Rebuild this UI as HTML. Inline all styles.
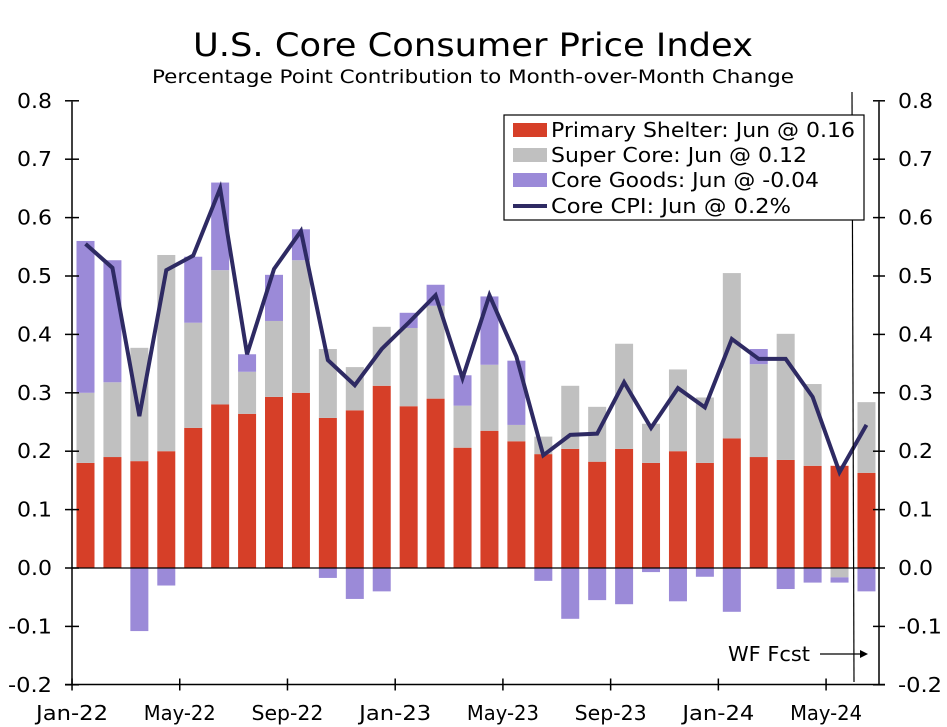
<!DOCTYPE html>
<html><head><meta charset="utf-8"><style>
html,body{margin:0;padding:0;background:#fff;}
svg{display:block;font-family:"DejaVu Sans","Liberation Sans",sans-serif;}
</style></head><body>
<svg id="chart" width="947" height="727" viewBox="0 0 947 727" xmlns="http://www.w3.org/2000/svg">
<text x="473" y="56" font-size="32" text-anchor="middle" textLength="560" lengthAdjust="spacingAndGlyphs">U.S. Core Consumer Price Index</text>
<text x="473" y="83" font-size="19" text-anchor="middle" textLength="642" lengthAdjust="spacingAndGlyphs">Percentage Point Contribution to Month-over-Month Change</text>
<g id="bars"></g>
<g id="axes"></g>
<polyline id="cpiline" fill="none" stroke="#2e2a63" stroke-width="4" stroke-linejoin="miter"/>
<line x1="852" y1="92" x2="854" y2="682" stroke="#000" stroke-width="1.2"/>
<text x="728" y="661" font-size="20" textLength="82" lengthAdjust="spacingAndGlyphs">WF Fcst</text>
<line x1="820" y1="654" x2="862" y2="654" stroke="#000" stroke-width="1.2"/>
<polygon points="868,654 860,650 860,658" fill="#000"/>
<g>
<rect x="504" y="115" width="360" height="105" fill="#fff" stroke="#000" stroke-width="1.2"/>
<rect x="513" y="123" width="34" height="14" fill="#d63f28"/>
<text x="551" y="137" font-size="20" textLength="304" lengthAdjust="spacingAndGlyphs">Primary Shelter: Jun @ 0.16</text>
<rect x="513" y="148" width="34" height="14" fill="#c0c0c0"/>
<text x="551" y="162" font-size="20" textLength="256" lengthAdjust="spacingAndGlyphs">Super Core: Jun @ 0.12</text>
<rect x="513" y="173" width="34" height="14" fill="#9b8ad8"/>
<text x="551" y="187" font-size="20" textLength="268" lengthAdjust="spacingAndGlyphs">Core Goods: Jun @ -0.04</text>
<line x1="513" y1="206" x2="547" y2="206" stroke="#2e2a63" stroke-width="4"/>
<text x="551" y="213" font-size="20" textLength="240" lengthAdjust="spacingAndGlyphs">Core CPI: Jun @ 0.2%</text>
</g>
</svg>
<script>
const months = ["Jan-22","Feb-22","Mar-22","Apr-22","May-22","Jun-22","Jul-22","Aug-22","Sep-22","Oct-22","Nov-22","Dec-22","Jan-23","Feb-23","Mar-23","Apr-23","May-23","Jun-23","Jul-23","Aug-23","Sep-23","Oct-23","Nov-23","Dec-23","Jan-24","Feb-24","Mar-24","Apr-24","May-24","Jun-24"];
const shelter = [0.18,0.19,0.183,0.20,0.24,0.28,0.264,0.293,0.30,0.257,0.27,0.312,0.277,0.29,0.206,0.235,0.217,0.195,0.204,0.182,0.204,0.18,0.20,0.18,0.222,0.19,0.185,0.175,0.175,0.163];
const superCore = [0.12,0.128,0.194,0.336,0.18,0.23,0.072,0.13,0.227,0.118,0.074,0.101,0.134,0.159,0.072,0.113,0.028,0.03,0.108,0.094,0.18,0.067,0.14,0.112,0.283,0.159,0.216,0.14,-0.016,0.121];
const coreGoods = [0.26,0.209,-0.108,-0.03,0.113,0.15,0.03,0.079,0.053,-0.017,-0.053,-0.04,0.026,0.036,0.052,0.117,0.11,-0.022,-0.087,-0.055,-0.062,-0.007,-0.057,-0.015,-0.075,0.026,-0.036,-0.025,-0.009,-0.04];
const coreCPI = [0.555,0.514,0.26,0.51,0.535,0.65,0.366,0.512,0.577,0.356,0.313,0.375,0.42,0.467,0.325,0.467,0.362,0.193,0.228,0.23,0.318,0.24,0.308,0.275,0.392,0.358,0.358,0.293,0.164,0.245];
const yTicks = [-0.2,-0.1,0.0,0.1,0.2,0.3,0.4,0.5,0.6,0.7,0.8];
const xLabelIdx = [0,4,8,12,16,20,24,28];

const NS="http://www.w3.org/2000/svg";
const y0=568, ppu=584, xL=72, xR=879, yTop=101.6, yBot=684.5;
const pitch=26.93, x0=85.5, bw=18;
function yS(v){return y0 - v*ppu;}
function xS(i){return x0 + i*pitch;}
function mk(tag,attrs,parent){const e=document.createElementNS(NS,tag);for(const k in attrs)e.setAttribute(k,attrs[k]);parent.appendChild(e);return e;}
const bars=document.getElementById('bars'), axes=document.getElementById('axes');
months.forEach((m,i)=>{
  let pos=0,neg=0;
  [[shelter[i],'#d63f28','shelter'],[superCore[i],'#c0c0c0','supercore'],[coreGoods[i],'#9b8ad8','goods']].forEach(([v,c,n])=>{
    let a,b;
    if(v>=0){a=pos;b=pos+v;pos=b;}else{a=neg;b=neg+v;neg=b;}
    const r=mk('rect',{x:xS(i)-bw/2,y:Math.min(yS(a),yS(b)),width:bw,height:Math.abs(yS(a)-yS(b)),fill:c},bars);
    
    
  });
});
document.getElementById('cpiline').setAttribute('points',coreCPI.map((v,i)=>xS(i)+','+yS(v)).join(' '));
let l;
l=mk('line',{x1:xL,y1:yTop,x2:xL,y2:yBot,stroke:'#000','stroke-width':1.5},axes);

l=mk('line',{x1:xR,y1:yTop,x2:xR,y2:yBot,stroke:'#000','stroke-width':1.5},axes);

l=mk('line',{x1:xL-7,y1:yBot,x2:xR+6,y2:yBot,stroke:'#000','stroke-width':1.5},axes);

l=mk('line',{x1:xL,y1:y0,x2:xR,y2:y0,stroke:'#000','stroke-width':1.2},axes);

yTicks.forEach(t=>{
  const y=yS(t);
  const s=t.toFixed(1);
  let e=mk('line',{x1:xL-7,y1:y,x2:xL+7,y2:y,stroke:'#000','stroke-width':1.5},axes);
  
  e=mk('line',{x1:xR-6,y1:y,x2:xR+6,y2:y,stroke:'#000','stroke-width':1.5},axes);
  
  e=mk('text',{x:52,y:y+7,'font-size':20,'text-anchor':'end',textLength:(s.length>3?44:35),lengthAdjust:'spacingAndGlyphs'},axes);e.textContent=s;
  
  e=mk('text',{x:898,y:y+7,'font-size':20,textLength:(s.length>3?44:35),lengthAdjust:'spacingAndGlyphs'},axes);e.textContent=s;
  
});
xLabelIdx.forEach(i=>{
  const x=xS(i)-pitch/2;
  let e=mk('line',{x1:x,y1:yBot-6,x2:x,y2:yBot+6,stroke:'#000','stroke-width':1.5},axes);
  
  e=mk('text',{x:x,y:720,'font-size':20,'text-anchor':'middle',textLength:72,lengthAdjust:'spacingAndGlyphs'},axes);e.textContent=months[i];
  
});
</script>
</body></html>
